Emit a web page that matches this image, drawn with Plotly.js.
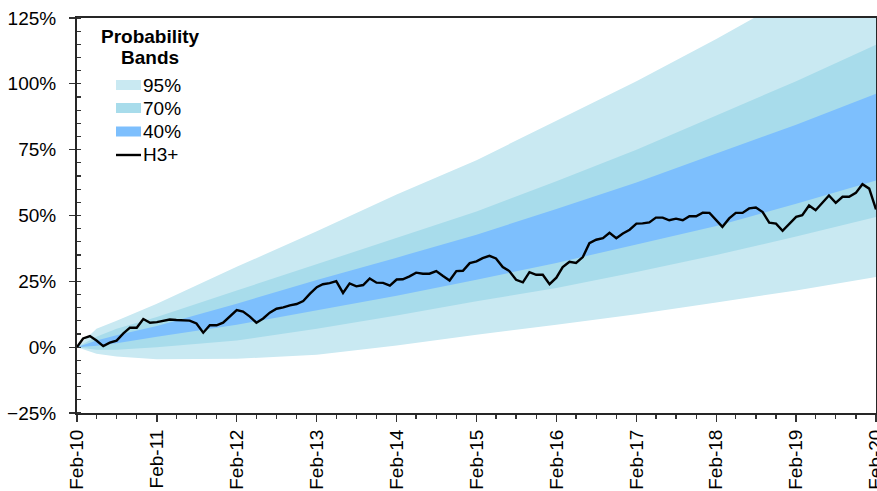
<!DOCTYPE html>
<html>
<head>
<meta charset="utf-8">
<script src="https://cdn.plot.ly/plotly-3.0.1.min.js"></script>
<style>html,body{margin:0;padding:0;background:#fff}#chart{width:877px;height:491px}</style>
</head>
<body>
<div id="chart"></div>
<script>
// Band edge readings (percent) at these dates
const bandDates = ['2010-02-01','2010-05-01','2010-08-01','2011-02-01','2012-02-01','2013-02-01','2014-02-01','2015-02-01','2016-02-01','2017-02-01','2018-02-01','2019-02-01','2020-02-01'];
const upper95 = [0, 7, 10, 16.5, 30.5, 44, 58, 71, 86, 101, 117, 134, 151];
const upper70 = [0, 4, 7, 11.5, 21.5, 31.5, 41.5, 51.5, 63, 75, 88, 101, 114.8];
const upper40 = [0, 2.5, 4.5, 8, 16.5, 25.5, 34, 42.7, 52.5, 62.5, 73.5, 84.5, 96.2];
const lower40 = [0, 0.5, 1.5, 4, 8.5, 14, 19.5, 25.6, 32, 39, 46, 54.5, 63.3];
const lower70 = [0, -1, -1, 0, 2.5, 7, 12, 17.4, 22.5, 28.5, 35, 42, 49.4];
const lower95 = [0, -2.5, -3.5, -4.6, -4.4, -2.9, 0.6, 4.7, 8.5, 12.5, 17, 21.5, 26.6];

// H3+ monthly series, Feb-2010 .. Feb-2020 (percent)
const h3Start = '2010-02';
const h3Values = [
  0, 3.3, 4.2, 2.5, 0.4, 1.7, 2.5, 5.2, 7.4, 7.4, 10.7, 9.3,
  9.5, 9.9, 10.5, 10.3, 10.1, 10.1, 9.0, 5.5, 8.3, 8.3, 9.3, 11.8,
  14.1, 13.5, 11.6, 9.3, 10.9, 13.1, 14.6, 15.1, 15.9, 16.4, 17.5, 20.3,
  22.8, 23.9, 24.3, 25.1, 20.6, 24.2, 23.1, 23.6, 26.1, 24.5, 24.4, 23.4,
  25.7, 25.8, 26.9, 28.3, 27.9, 27.9, 28.9, 27.0, 25.3, 28.9, 29.0, 31.9,
  32.6, 33.8, 34.7, 33.7, 30.4, 28.9, 25.6, 24.6, 28.5, 27.5, 27.5, 23.9,
  26.4, 30.4, 32.4, 32.0, 34.2, 39.5, 40.8, 41.4, 43.4, 41.4, 43.2, 44.6,
  46.9, 47.0, 47.4, 49.2, 49.2, 48.2, 48.8, 48.2, 49.7, 49.7, 51.1, 51.0,
  48.2, 45.7, 48.9, 51.0, 51.0, 52.7, 53.0, 51.3, 47.3, 46.9, 44.2, 47.0,
  49.5, 50.1, 53.8, 52.0, 54.8, 57.6, 54.8, 57.1, 57.1, 58.6, 61.9, 60.2,
  52.3
];

const bandNames = ['95%', '70%', '40%'];
const lineName = 'H3+';
const legendTitle = ['Probability', 'Bands'];
const yearTicks = ['2010-02-01','2011-02-01','2012-02-01','2013-02-01','2014-02-01','2015-02-01','2016-02-01','2017-02-01','2018-02-01','2019-02-01','2020-02-01'];
const yearLabels = ['Feb-10','Feb-11','Feb-12','Feb-13','Feb-14','Feb-15','Feb-16','Feb-17','Feb-18','Feb-19','Feb-20'];

const colors = {b95: '#C9E9F2', b70: '#A8DCEB', b40: '#7DBFFD', line: '#000000'};

// month dates for the H3+ series
const h3Dates = h3Values.map((_, i) => {
  const y0 = parseInt(h3Start.slice(0, 4), 10), m0 = parseInt(h3Start.slice(5), 10) - 1;
  const t = m0 + i;
  const y = y0 + Math.floor(t / 12), m = (t % 12) + 1;
  return y + '-' + String(m).padStart(2, '0') + '-01';
});

function edge(y) {
  return {x: bandDates, y: y, type: 'scatter', mode: 'lines', line: {width: 0}, showlegend: false, hoverinfo: 'skip'};
}
function band(y, name, color) {
  return {x: bandDates, y: y, type: 'scatter', mode: 'lines', line: {width: 0, color: color}, fill: 'tonexty', fillcolor: color, name: name, showlegend: false, hoverinfo: 'skip'};
}

const traces = [
  edge(lower95), band(upper95, bandNames[0], colors.b95),
  edge(lower70), band(upper70, bandNames[1], colors.b70),
  edge(lower40), band(upper40, bandNames[2], colors.b40),
  {x: h3Dates, y: h3Values, type: 'scatter', mode: 'lines', name: lineName, showlegend: false, line: {color: colors.line, width: 2.4}}
];

const fontFam = '"Liberation Sans", Arial, Helvetica, sans-serif';

// ---- legend box (drawn in paper coordinates) ----
const M = {l: 77, r: 1, t: 18, b: 78};
const W = 877, H = 491;
const pw = W - M.l - M.r, ph = H - M.t - M.b;
const px = v => (v - M.l) / pw;
const py = v => (H - M.b - v) / ph;

const legSwatchX = [116, 141];
const legTextX = 143;
const legRows = [85, 108, 131.5, 155];
const legColors = [colors.b95, colors.b70, colors.b40];

const shapes = [];
const annotations = [];
annotations.push({xref: 'paper', yref: 'paper', x: px(150), y: py(36), text: '<b>' + legendTitle[0] + '</b>', showarrow: false, xanchor: 'center', yanchor: 'middle', font: {family: fontFam, size: 19, color: '#000'}});
annotations.push({xref: 'paper', yref: 'paper', x: px(150), y: py(57.5), text: '<b>' + legendTitle[1] + '</b>', showarrow: false, xanchor: 'center', yanchor: 'middle', font: {family: fontFam, size: 19, color: '#000'}});
bandNames.forEach((n, i) => {
  shapes.push({type: 'rect', xref: 'paper', yref: 'paper', x0: px(legSwatchX[0]), x1: px(legSwatchX[1]), y0: py(legRows[i] - 5), y1: py(legRows[i] + 5), fillcolor: legColors[i], line: {width: 0}});
  annotations.push({xref: 'paper', yref: 'paper', x: px(legTextX), y: py(legRows[i]), text: n, showarrow: false, xanchor: 'left', yanchor: 'middle', xshift: -2, font: {family: fontFam, size: 19, color: '#000'}});
});
shapes.push({type: 'line', xref: 'paper', yref: 'paper', x0: px(legSwatchX[0]), x1: px(legSwatchX[1]), y0: py(legRows[3]), y1: py(legRows[3]), line: {color: colors.line, width: 2.4}});
annotations.push({xref: 'paper', yref: 'paper', x: px(legTextX), y: py(legRows[3]), text: lineName, showarrow: false, xanchor: 'left', yanchor: 'middle', xshift: -2, font: {family: fontFam, size: 19, color: '#000'}});

const layout = {
  width: W, height: H,
  margin: {l: M.l, r: M.r, t: M.t, b: M.b, pad: 0},
  paper_bgcolor: '#ffffff', plot_bgcolor: '#ffffff',
  font: {family: fontFam, size: 19, color: '#000'},
  showlegend: false,
  shapes: shapes,
  annotations: annotations,
  xaxis: {
    type: 'date',
    range: ['2010-02-01', '2020-02-01'],
    tickmode: 'array', tickvals: yearTicks, ticktext: yearLabels,
    tickangle: -90,
    ticklabeloverflow: 'allow',
    ticks: 'outside', ticklen: 7, tickwidth: 1.3, tickcolor: '#333',
    minor: {dtick: 'M3', tick0: '2010-02-01', ticks: 'outside', ticklen: 4, tickwidth: 1.3, tickcolor: '#333', showgrid: false},
    showline: true, linecolor: '#262626', linewidth: 2, mirror: true,
    showgrid: false, zeroline: false,
    tickfont: {family: fontFam, size: 19, color: '#000'}
  },
  yaxis: {
    range: [-25, 125],
    tickmode: 'linear', tick0: 0, dtick: 25, ticksuffix: '%',
    ticks: 'outside', ticklen: 6, tickwidth: 1.3, tickcolor: '#333',
    ticklabelstandoff: 9,
    minor: {dtick: 5, ticks: 'inside', ticklen: 4, tickwidth: 1.3, tickcolor: '#333', showgrid: false},
    showline: true, linecolor: '#262626', linewidth: 2, mirror: true,
    showgrid: false, zeroline: false,
    tickfont: {family: fontFam, size: 19, color: '#000'}
  }
};

Plotly.newPlot('chart', traces, layout, {displayModeBar: false, staticPlot: true});
</script>
</body>
</html>
